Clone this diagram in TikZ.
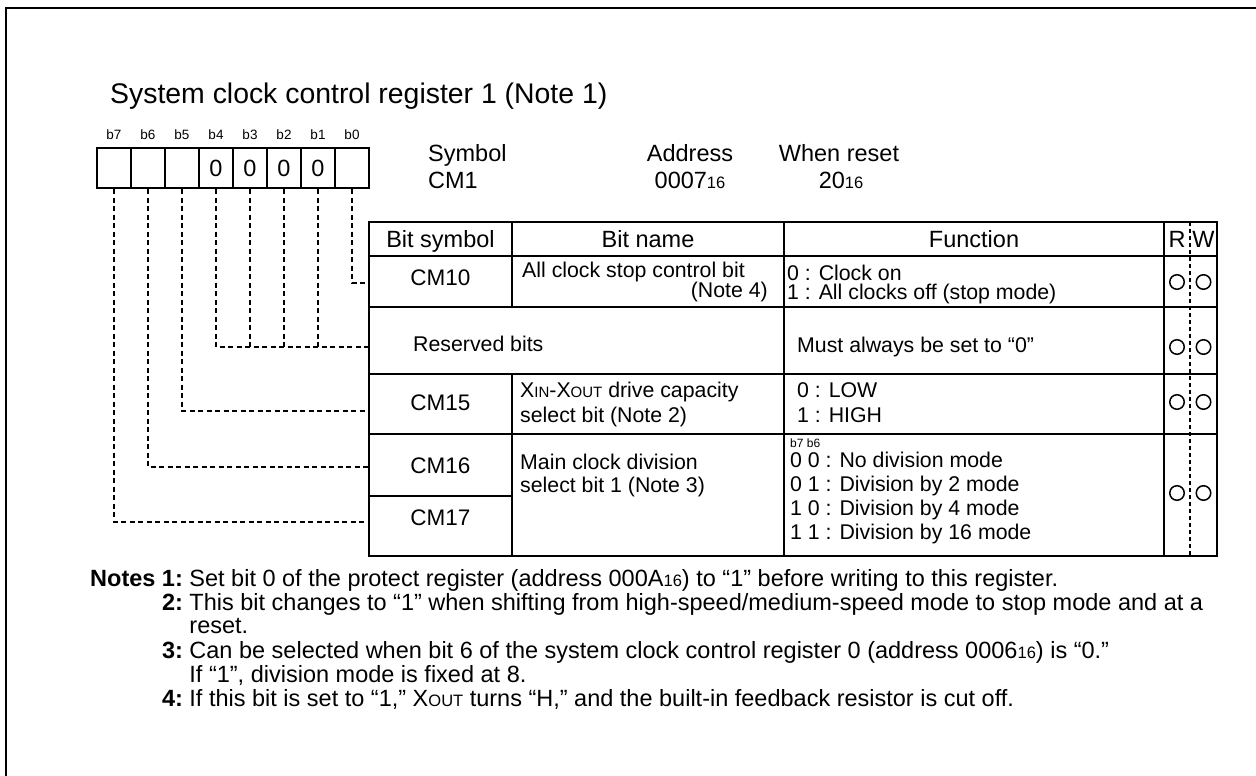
\documentclass[tikz,border=0pt]{standalone}
\usepackage{fontspec}
\setmainfont{Liberation Sans}
\usetikzlibrary{positioning}
\newcommand{\sm}[1]{{\fontsize{16.5}{17}\selectfont #1}}
\newcommand{\smc}[1]{{\fontsize{15}{15}\selectfont #1}}
\newcommand{\bodyfont}{\fontsize{23.5}{24}\selectfont}
\newcommand{\cellfont}{\fontsize{21.3}{22}\selectfont}

\begin{document}
\begin{tikzpicture}[x=1pt,y=-1pt,
  every node/.style={inner sep=0pt,font=\bodyfont},
  bitbox/.style={draw,line width=2pt,minimum width=34pt,minimum height=40pt},
  bitlbl/.style={font=\fontsize{13.5}{14}\selectfont},
  lft/.style={anchor=base west},
  ctr/.style={anchor=base},
  cell/.style={anchor=base west,font=\cellfont},
  symcell/.style={anchor=base,font=\fontsize{22.5}{23}\selectfont},
  rwmark/.style={circle,draw,line width=1.5pt,minimum size=14.5pt},
  grid/.style={line width=2pt},
  lead/.style={line width=1.5pt,dash pattern=on 5pt off 3.5pt}]
\useasboundingbox (0,0) rectangle (1256,776);
\draw[line width=2.5pt] (6,776) -- (6,8) -- (1256,8);

\node[lft,font=\fontsize{28.4}{30}\selectfont] (title) at (110,103) {System clock control register 1 (Note 1)};

\foreach \i/\v in {7/,6/,5/,4/0,3/0,2/0,1/0,0/}{
  \node[bitbox] (bit\i) at ({114+34*(7-\i)},168) {\v};
  \node[bitlbl] (lbl\i) at ({114+34*(7-\i)},135) {b\i};
}

\node[lft] (sym) at (428,161.5) {Symbol};
\node[lft] (symv) at (428,188.5) {CM1};
\node[ctr] (adr) at (690,161.5) {Address};
\node[ctr] (adrv) at (690,188.5) {0007\sm{16}};
\node[ctr] (rst) at (839,161.5) {When reset};
\node[ctr] (rstv) at (841,188.5) {20\sm{16}};

% table
\draw[grid] (369,222) rectangle (1217,556);
\foreach \y in {256,307,374,434} \draw[grid] (369,\y) -- (1217,\y);
\draw[grid] (369,496) -- (512,496);
\draw[grid] (512,222) -- (512,307) (512,374) -- (512,556);
\draw[grid] (784,222) -- (784,556) (1164,222) -- (1164,556);
\draw[line width=1.2pt,dash pattern=on 4pt off 3pt] (1190,222) -- (1190,556);

\node[ctr] (hsym) at (440.5,247.5) {Bit symbol};
\node[ctr] (hname) at (648,247.5) {Bit name};
\node[ctr] (hfun) at (974,247.5) {Function};
\node[ctr] (hr) at (1177,247.5) {R};
\node[ctr] (hw) at (1203.5,247.5) {W};

\node[symcell] (cm10) at (440.5,285) {CM10};
\node[cell] (n10a) at (522,277.6) {All clock stop control bit};
\node[cell,anchor=base east] (n10b) at (768,297.6) {(Note 4)};
\node[cell] (f10a) at (787,280.6) {0 : Clock on};
\node[cell] (f10b) at (787,299.6) {1 : All clocks off (stop mode)};

\node[cell] (res) at (413,351.6) {Reserved bits};
\node[cell] (fres) at (797,352.6) {Must always be set to “0”};

\node[symcell] (cm15) at (440.5,410) {CM15};
\node[cell] (n15a) at (520,397.6) {X\smc{IN}-X\smc{OUT} drive capacity};
\node[cell] (n15b) at (520,422.6) {select bit (Note 2)};
\node[cell] (f15a) at (797,397.6) {0 : LOW};
\node[cell] (f15b) at (797,422.6) {1 : HIGH};

\node[symcell] (cm16) at (440.5,473) {CM16};
\node[symcell] (cm17) at (440.5,525.5) {CM17};
\node[cell] (n16a) at (520,469.6) {Main clock division};
\node[cell] (n16b) at (520,492.6) {select bit 1 (Note 3)};
\node[lft,font=\fontsize{12}{12}\selectfont] (f16h) at (790,447) {b7 b6};
\foreach \t [count=\k] in {0 0 : No division mode,0 1 : Division by 2 mode,
    1 0 : Division by 4 mode,1 1 : Division by 16 mode}
  \node[cell] (f16\k) at (790,{443.6+24*\k}) {\t};

\foreach \y [count=\k] in {282,347,402,493}{
  \node[rwmark] (rd\k) at (1177,\y) {};
  \node[rwmark] (wr\k) at (1203.5,\y) {};
}

% bit leads
\coordinate (in0) at (369,283);
\coordinate (inres) at (369,347);
\coordinate (in5) at (369,411);
\coordinate (in6) at (369,467);
\coordinate (in7) at (369,522);
\draw[lead] (bit0.south) |- (in0);
\draw[lead] (bit4.south) |- (inres);
\foreach \i in {3,2,1} \draw[lead] (bit\i.south) -- (bit\i.south |- inres);
\draw[lead] (bit5.south) |- (in5);
\draw[lead] (bit6.south) |- (in6);
\draw[lead] (bit7.south) |- (in7);

\node[anchor=base west,font=\fontsize{23.5}{23.4}\selectfont] (notes) at (90,586.5) {%
  \begin{tabular}[t]{@{}r@{\ }l@{}}
  \textbf{Notes 1:} & Set bit 0 of the protect register (address 000A\sm{16}) to “1” before writing to this register.\\
  \textbf{2:} & This bit changes to “1” when shifting from high-speed/medium-speed mode to stop mode and at a\\
   & reset.\\
  \textbf{3:} & Can be selected when bit 6 of the system clock control register 0 (address 0006\sm{16}) is “0.”\\
   & If “1”, division mode is fixed at 8.\\
  \textbf{4:} & If this bit is set to “1,” X\sm{OUT} turns “H,” and the built-in feedback resistor is cut off.
  \end{tabular}};
\end{tikzpicture}
\end{document}
